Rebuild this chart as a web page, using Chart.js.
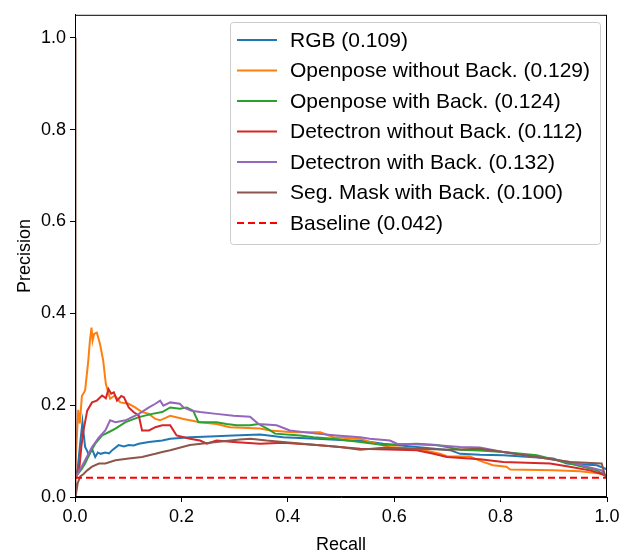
<!DOCTYPE html>
<html lang="en">
<head>
  <meta charset="UTF-8" />
  <title>Precision-Recall</title>
  <script src="https://cdn.jsdelivr.net/npm/chart.js"></script>
  <style>
    body { margin: 0; background: #fff; }
    canvas { display: block; }
  </style>
</head>
<body>
  <canvas id="grafico" width="624" height="556"></canvas>

  <script>
    // recall / precision pairs
    const rgbRecall = [0, 0.005, 0.010, 0.014, 0.016, 0.019, 0.023, 0.026, 0.032, 0.038, 0.043, 0.048, 0.057, 0.064, 0.070, 0.082, 0.092, 0.101, 0.110, 0.120, 0.139, 0.164, 0.179, 0.216, 0.254, 0.297, 0.348, 0.391, 0.454, 0.517, 0.536, 0.579, 0.642, 0.705, 0.724, 0.761, 0.805, 0.899, 0.924, 0.981, 1.0];
    const rgbPrecision = [0.045, 0.060, 0.120, 0.163, 0.140, 0.109, 0.100, 0.091, 0.105, 0.087, 0.097, 0.094, 0.097, 0.095, 0.102, 0.113, 0.110, 0.113, 0.112, 0.116, 0.120, 0.123, 0.127, 0.130, 0.132, 0.134, 0.136, 0.130, 0.127, 0.123, 0.123, 0.116, 0.109, 0.102, 0.094, 0.092, 0.091, 0.084, 0.073, 0.069, 0.060];

    const opNoBackRecall = [0, 0.003, 0.006, 0.009, 0.013, 0.019, 0.025, 0.028, 0.031, 0.033, 0.036, 0.041, 0.047, 0.053, 0.058, 0.066, 0.075, 0.085, 0.101, 0.113, 0.126, 0.139, 0.151, 0.160, 0.179, 0.204, 0.235, 0.266, 0.291, 0.348, 0.367, 0.410, 0.461, 0.486, 0.536, 0.554, 0.592, 0.642, 0.686, 0.699, 0.742, 0.768, 0.786, 0.811, 0.818, 0.899, 0.949, 0.987, 1.0];
    const opNoBackPrecision = [0.050, 0.120, 0.190, 0.160, 0.220, 0.232, 0.297, 0.340, 0.369, 0.340, 0.355, 0.358, 0.333, 0.297, 0.246, 0.214, 0.221, 0.206, 0.203, 0.195, 0.185, 0.181, 0.170, 0.167, 0.177, 0.170, 0.163, 0.159, 0.152, 0.149, 0.145, 0.141, 0.141, 0.130, 0.127, 0.120, 0.109, 0.105, 0.094, 0.089, 0.088, 0.076, 0.069, 0.066, 0.060, 0.058, 0.056, 0.051, 0.045];

    const opBackRecall = [0, 0.005, 0.012, 0.019, 0.029, 0.038, 0.051, 0.063, 0.076, 0.095, 0.120, 0.145, 0.164, 0.179, 0.197, 0.210, 0.222, 0.232, 0.266, 0.285, 0.304, 0.329, 0.345, 0.367, 0.376, 0.423, 0.448, 0.486, 0.536, 0.580, 0.642, 0.680, 0.724, 0.761, 0.805, 0.868, 0.930, 0.981, 1.0];
    const opBackPrecision = [0.040, 0.050, 0.060, 0.073, 0.098, 0.116, 0.134, 0.141, 0.149, 0.163, 0.174, 0.181, 0.185, 0.195, 0.192, 0.195, 0.188, 0.163, 0.163, 0.159, 0.156, 0.156, 0.159, 0.145, 0.138, 0.134, 0.130, 0.127, 0.120, 0.113, 0.116, 0.113, 0.103, 0.101, 0.098, 0.091, 0.073, 0.058, 0.045];

    const detNoBackRecall = [0, 0.008, 0.012, 0.016, 0.023, 0.032, 0.041, 0.051, 0.058, 0.063, 0.068, 0.073, 0.079, 0.087, 0.092, 0.101, 0.110, 0.120, 0.126, 0.139, 0.151, 0.164, 0.179, 0.191, 0.216, 0.235, 0.248, 0.266, 0.298, 0.348, 0.391, 0.454, 0.536, 0.642, 0.674, 0.699, 0.761, 0.805, 0.893, 0.930, 0.968, 0.996, 1.0];
    const detNoBackPrecision = [0.040, 0.060, 0.110, 0.145, 0.188, 0.206, 0.210, 0.221, 0.215, 0.235, 0.225, 0.228, 0.210, 0.220, 0.217, 0.195, 0.185, 0.177, 0.145, 0.145, 0.152, 0.156, 0.156, 0.134, 0.127, 0.123, 0.116, 0.123, 0.120, 0.116, 0.118, 0.113, 0.105, 0.102, 0.094, 0.087, 0.082, 0.076, 0.073, 0.066, 0.058, 0.048, 0.042];

    const detBackRecall = [0, 0.005, 0.012, 0.019, 0.032, 0.045, 0.057, 0.066, 0.076, 0.095, 0.120, 0.139, 0.151, 0.160, 0.166, 0.179, 0.197, 0.204, 0.219, 0.235, 0.266, 0.298, 0.329, 0.345, 0.379, 0.404, 0.454, 0.492, 0.536, 0.554, 0.592, 0.605, 0.674, 0.724, 0.761, 0.805, 0.868, 0.930, 0.962, 0.990, 1.0];
    const detBackPrecision = [0.040, 0.050, 0.065, 0.080, 0.109, 0.130, 0.145, 0.167, 0.163, 0.167, 0.181, 0.195, 0.203, 0.210, 0.199, 0.206, 0.203, 0.195, 0.188, 0.185, 0.181, 0.177, 0.175, 0.159, 0.156, 0.145, 0.138, 0.134, 0.130, 0.127, 0.123, 0.116, 0.113, 0.109, 0.108, 0.098, 0.087, 0.076, 0.066, 0.058, 0.042];

    const segRecall = [0, 0.001, 0.005, 0.010, 0.016, 0.023, 0.032, 0.045, 0.057, 0.076, 0.101, 0.126, 0.151, 0.164, 0.179, 0.216, 0.266, 0.310, 0.330, 0.360, 0.391, 0.454, 0.498, 0.536, 0.580, 0.642, 0.705, 0.761, 0.805, 0.868, 0.930, 0.990, 0.996, 1.0];
    const segPrecision = [1.0, 0.0, 0.030, 0.045, 0.050, 0.058, 0.066, 0.073, 0.073, 0.080, 0.084, 0.087, 0.094, 0.098, 0.102, 0.113, 0.120, 0.125, 0.127, 0.123, 0.120, 0.113, 0.109, 0.103, 0.107, 0.105, 0.103, 0.105, 0.098, 0.087, 0.076, 0.073, 0.048, 0.042];

    const baselineRecall = [0, 1];
    const baselinePrecision = [0.042, 0.042];

    const etiquetas = [
      "RGB (0.109)",
      "Openpose without Back. (0.129)",
      "Openpose with Back. (0.124)",
      "Detectron without Back. (0.112)",
      "Detectron with Back. (0.132)",
      "Seg. Mask with Back. (0.100)",
      "Baseline (0.042)"
    ];
    const colores = ["#1f77b4", "#ff7f0e", "#2ca02c", "#d62728", "#9467bd", "#8c564b", "#ff0000"];

    const series = [
      [rgbRecall, rgbPrecision],
      [opNoBackRecall, opNoBackPrecision],
      [opBackRecall, opBackPrecision],
      [detNoBackRecall, detNoBackPrecision],
      [detBackRecall, detBackPrecision],
      [segRecall, segPrecision],
      [baselineRecall, baselinePrecision]
    ];

    const datasets = series.map(([rec, prec], i) => ({
      label: etiquetas[i],
      data: rec.map((r, j) => ({ x: r, y: prec[j] })),
      borderColor: colores[i],
      borderWidth: 2,
      borderDash: i === 6 ? [7, 4] : [],
      pointRadius: 0,
      tension: 0,
      fill: false,
      order: series.length - i
    }));

    const FUENTE = "'Liberation Sans', Arial, sans-serif";

    // spines + legend box like matplotlib
    const marco = {
      id: "marco",
      afterDatasetsDraw(chart) {
        const { ctx, chartArea: a } = chart;
        ctx.save();
        ctx.strokeStyle = "#000";
        ctx.lineWidth = 1;
        ctx.strokeRect(a.left + 0.5, a.top + 0.5, a.right - a.left - 1, a.bottom - a.top - 1);
        ctx.restore();
      },
      afterDraw(chart) {
        const ctx = chart.ctx;
        const x0 = 230, y0 = 22, w = 370, h = 222;
        ctx.save();
        ctx.fillStyle = "rgba(255,255,255,0.8)";
        ctx.strokeStyle = "#cccccc";
        ctx.lineWidth = 1;
        ctx.beginPath();
        ctx.roundRect(x0 + 0.5, y0 + 0.5, w, h, 3);
        ctx.fill();
        ctx.stroke();
        ctx.font = "21px " + FUENTE;
        ctx.textBaseline = "middle";
        chart.data.datasets.forEach((ds, i) => {
          const y = 40 + i * 30.5;
          ctx.strokeStyle = ds.borderColor;
          ctx.lineWidth = 2;
          ctx.setLineDash(ds.borderDash);
          ctx.beginPath();
          ctx.moveTo(237, y);
          ctx.lineTo(277, y);
          ctx.stroke();
          ctx.setLineDash([]);
          ctx.fillStyle = "#000";
          ctx.fillText(ds.label, 290, y + 1);
        });
        ctx.restore();
      }
    };

    new Chart(document.getElementById("grafico"), {
      type: "line",
      data: { datasets },
      options: {
        responsive: false,
        animation: false,
        layout: { padding: { left: 0, right: 17, top: 12, bottom: 0 } },
        plugins: { legend: { display: false }, tooltip: { enabled: false } },
        scales: {
          x: {
            type: "linear",
            min: 0,
            max: 1,
            afterFit: s => { s.height = 59; },
            ticks: {
              stepSize: 0.2,
              color: "#000",
              font: { size: 18, family: FUENTE },
              padding: 4,
              maxRotation: 0,
              callback: v => v.toFixed(1)
            },
            grid: { drawOnChartArea: false, drawTicks: true, tickLength: 5, color: "#000" },
            border: { color: "#000", width: 1 },
            title: {
              display: true,
              text: "Recall",
              color: "#000",
              font: { size: 18, family: FUENTE },
              padding: { top: 0, bottom: 0 }
            }
          },
          y: {
            min: 0,
            max: 1.05,
            afterFit: s => { s.width = 75; },
            afterBuildTicks: s => { s.ticks = s.ticks.filter(t => t.value <= 1.0001); },
            ticks: {
              stepSize: 0.2,
              color: "#000",
              font: { size: 18, family: FUENTE },
              padding: 4,
              callback: v => v.toFixed(1)
            },
            grid: { drawOnChartArea: false, drawTicks: true, tickLength: 5, color: "#000" },
            border: { color: "#000", width: 1 },
            title: {
              display: true,
              text: "Precision",
              color: "#000",
              font: { size: 18, family: FUENTE },
              padding: { top: 14, bottom: 0 }
            }
          }
        }
      },
      plugins: [marco]
    });
  </script>
</body>
</html>
